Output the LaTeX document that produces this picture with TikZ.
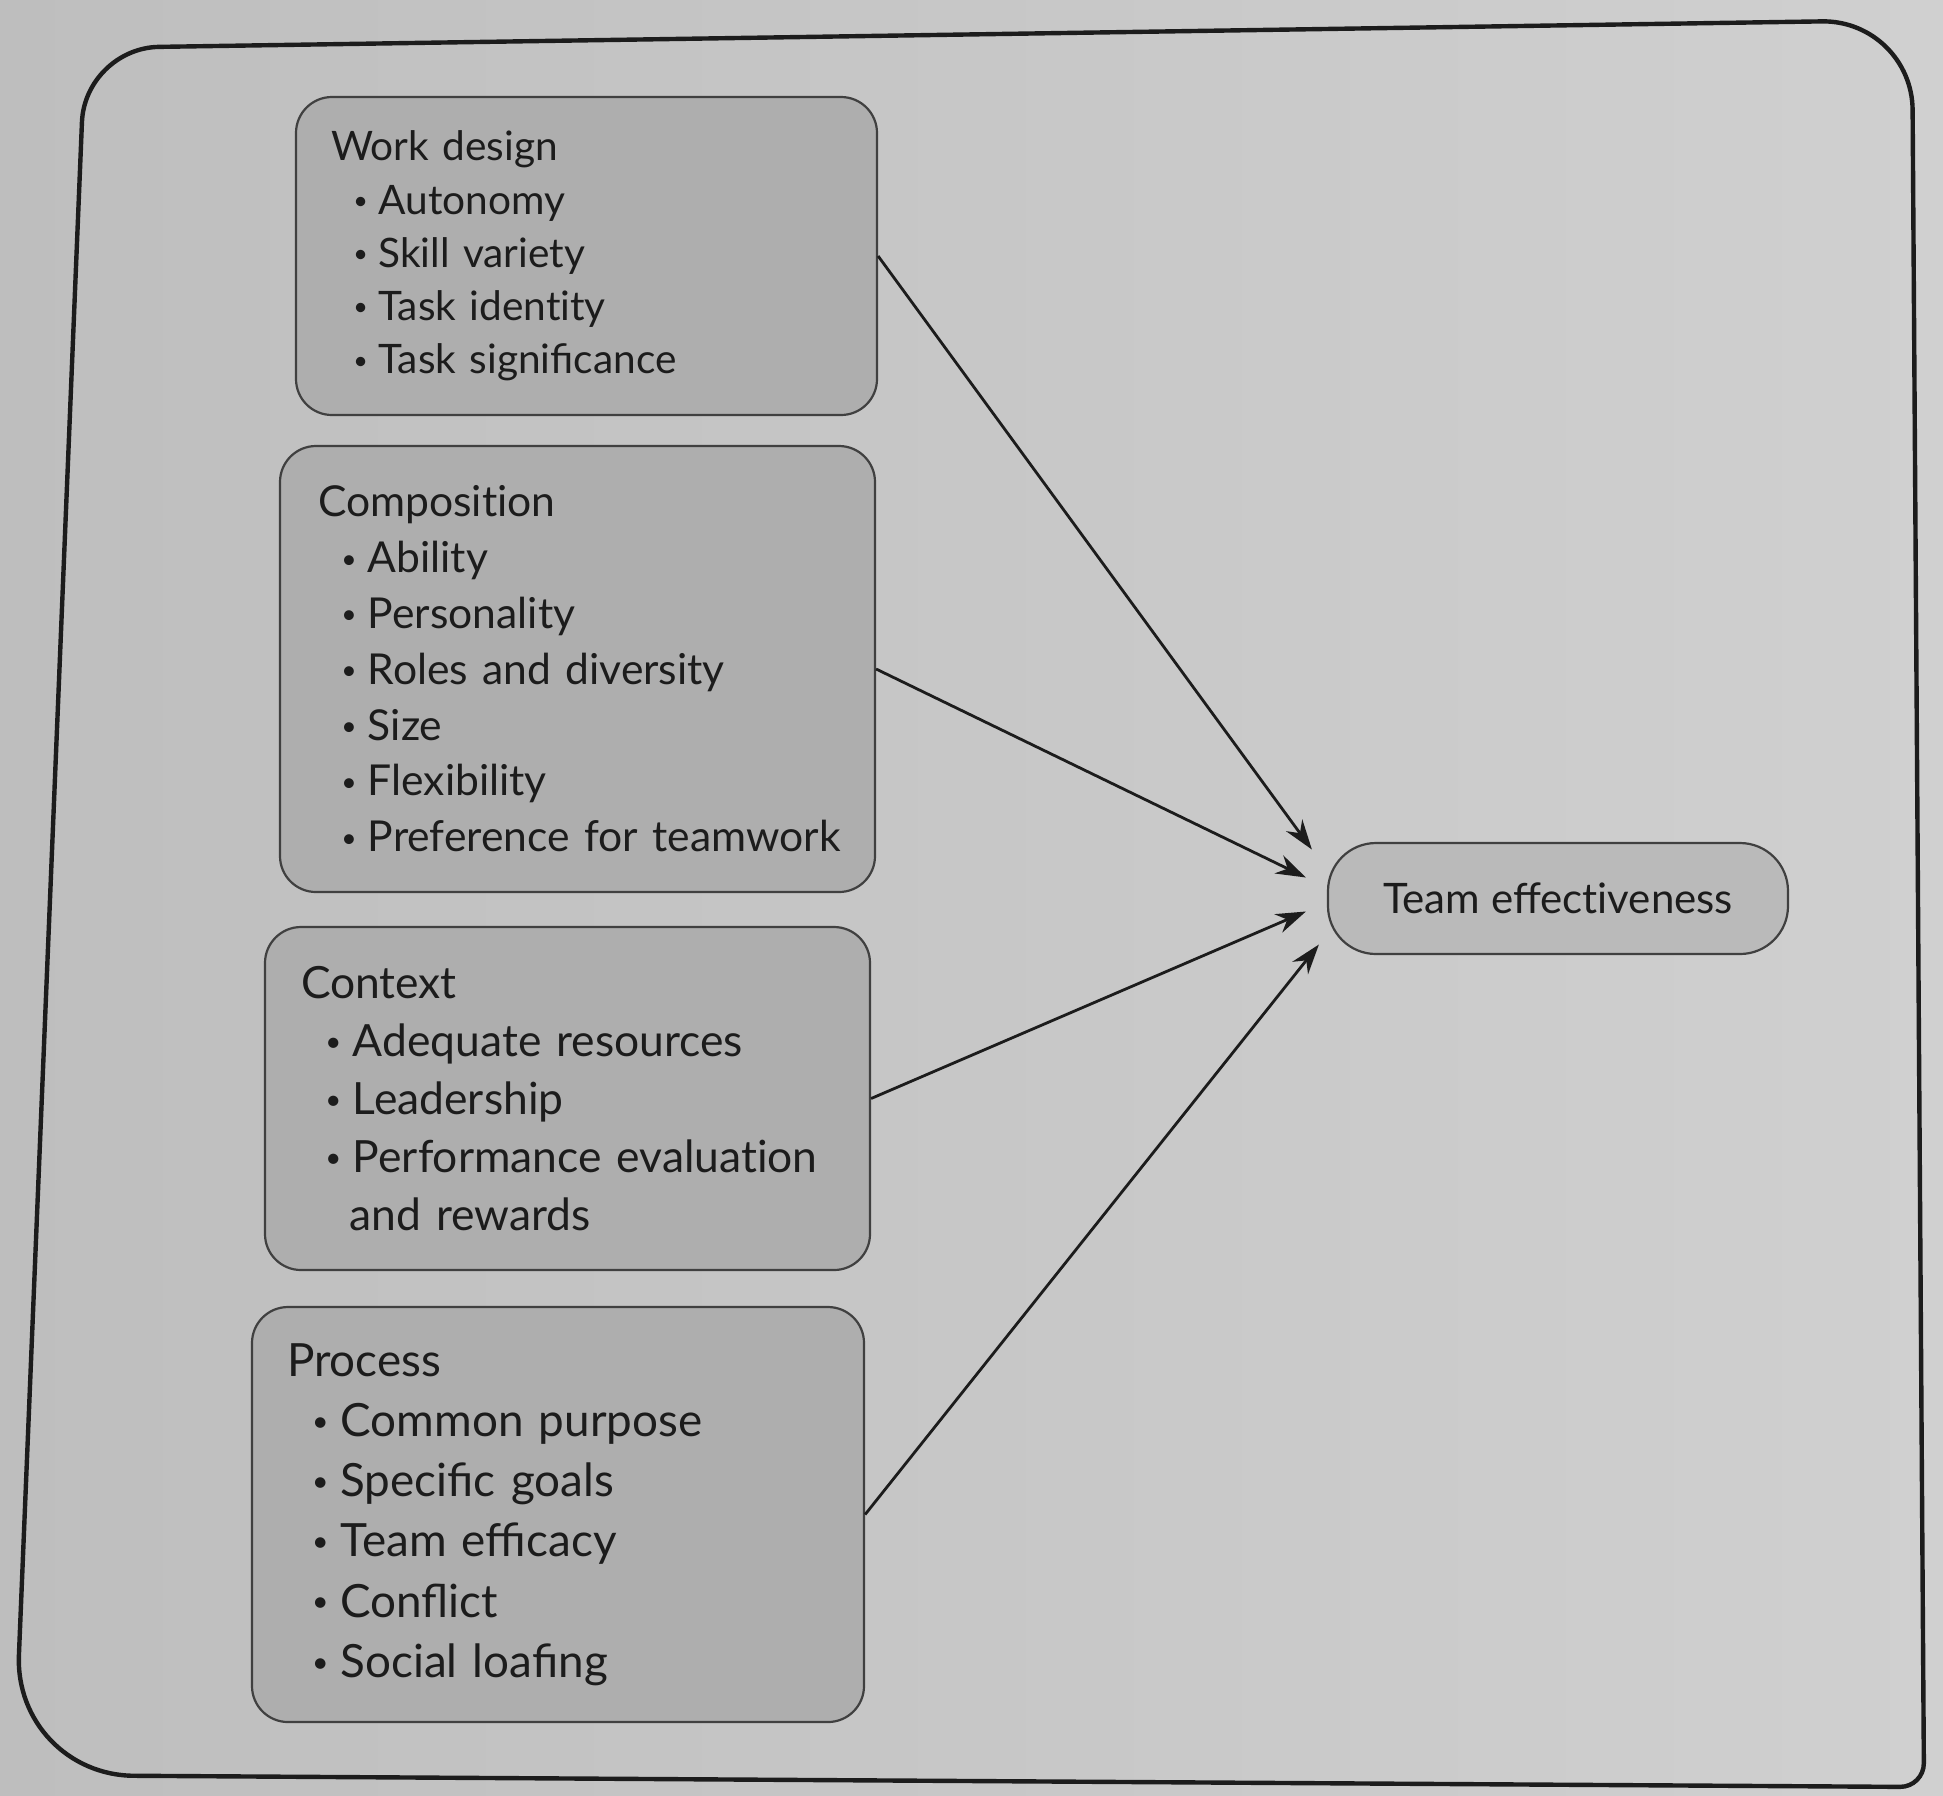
\documentclass[tikz,border=0pt]{standalone}
\usepackage{fontspec}
\setmainfont{Lato}
\usetikzlibrary{arrows.meta,calc}

\definecolor{paperL}{RGB}{190,190,190}
\definecolor{paperR}{RGB}{208,208,208}
\definecolor{boxfill}{RGB}{174,174,174}
\definecolor{tefill}{RGB}{186,186,186}
\definecolor{edge}{RGB}{64,64,64}
\definecolor{ink}{RGB}{28,28,28}

% small raised bullet followed by the item text
\newcommand\bul{\hspace*{0.55em}\makebox[0.62em][l]{\raisebox{0.22ex}{\scalebox{0.62}{\textbullet}}}}
\newcommand\cont{\hspace*{1.1em}}
% keeps t and i apart (no ti ligature)
\newcommand\ti{t\kern0pt i}

\tikzset{
  factor/.style={draw=edge, line width=1.1pt, fill=boxfill, rounded corners=18pt,
    align=left, inner ysep=4pt, text=ink},
  result/.style={draw=edge, line width=1.1pt, fill=tefill, rounded corners=24pt,
    align=center, text=ink},
  link/.style={draw=ink, line width=1.4pt, -{Stealth[length=15pt,width=10pt]}},
  frame/.style={draw=ink, line width=2.2pt}
}

\begin{document}
\begin{tikzpicture}[x=0.5pt,y=-0.5pt]
\useasboundingbox (0,0) rectangle (1943,1795);
\fill[left color=paperL, right color=paperR] (0,0) rectangle (1943,1795);

% outer panel
\begin{scope}
\clip (0,0) rectangle (1943,1795);
\draw[frame] (14,1775) [rounded corners=37pt] -- (85,48) [rounded corners=45pt]
  -- (1912,20) [rounded corners=12pt] -- (1924,1787) [rounded corners=60pt]
  -- cycle;
\end{scope}

% factor boxes
\node[factor, minimum width=290.5pt, minimum height=159pt, text width=255.5pt,
  inner xsep=17.5pt, font=\fontsize{20.3}{26.6}\selectfont] (wd) at (586.5,256)
  {Work design\\
   \bul Autonomy\\
   \bul Skill variety\\
   \bul Task iden\ti ty\\
   \bul Task significance};

\node[factor, minimum width=297.5pt, minimum height=223pt, text width=259.5pt,
  inner xsep=19pt, font=\fontsize{21.3}{27.9}\selectfont] (comp) at (577.5,669)
  {Composi\ti on\\
   \bul Ability\\
   \bul Personality\\
   \bul Roles and diversity\\
   \bul Size\\
   \bul Flexibility\\
   \mbox{\bul Preference for teamwork}};

\node[factor, minimum width=302.5pt, minimum height=171.5pt, text width=266.5pt,
  inner xsep=18pt, font=\fontsize{22.2}{29.1}\selectfont] (ctx) at (567.5,1098.5)
  {Context\\
   \bul Adequate resources\\
   \bul Leadership\\
   \mbox{\bul Performance evalua\ti on}\\
   \cont and rewards};

\node[factor, minimum width=306pt, minimum height=207.5pt, text width=271pt,
  inner xsep=17.5pt, font=\fontsize{22.9}{30.1}\selectfont] (proc) at (558,1514.5)
  {Process\\
   \bul Common purpose\\
   \bul Specific goals\\
   \bul Team efficacy\\
   \bul Conflict\\
   \bul Social loafing};

% outcome
\node[result, minimum width=230pt, minimum height=55.5pt,
  font=\fontsize{21}{25}\selectfont] (te) at (1558,898.5) {Team effec\ti veness};

% arrows into the outcome
\draw[link] (wd.east)   -- ($(te.west)+(-15,-49)$);
\draw[link] (comp.east) -- ($(te.west)+(-21,-21)$);
\draw[link] (ctx.east)  -- ($(te.west)+(-21,13)$);
\draw[link] (proc.east) -- ($(te.west)+(-8,46)$);
\end{tikzpicture}
\end{document}
